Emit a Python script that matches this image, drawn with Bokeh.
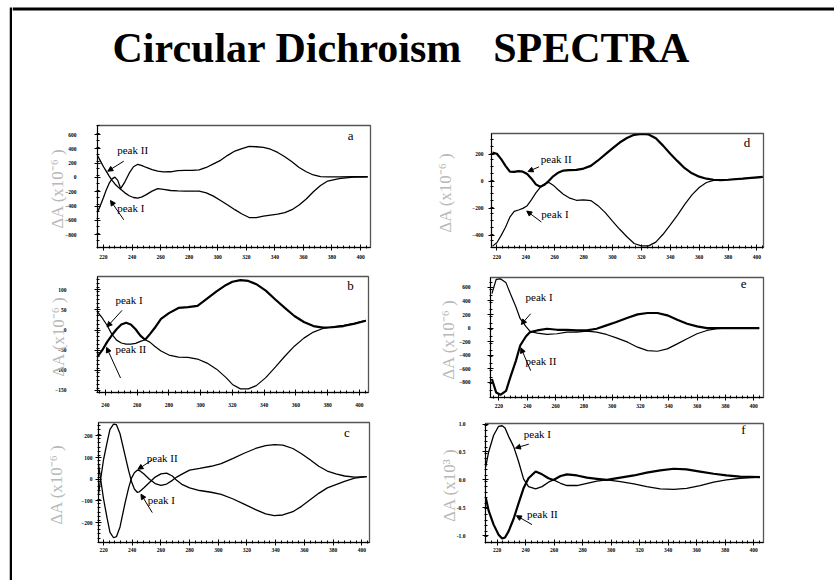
from bokeh.plotting import figure
from bokeh.layouts import column, row
from bokeh.models import Label, Arrow, NormalHead, FixedTicker, Range1d, BoxAnnotation, NumeralTickFormatter
from bokeh.embed import file_html
from bokeh.resources import INLINE

TITLE_PART_1 = "Circular Dichroism"
TITLE_PART_2 = "SPECTRA"
PEAK_I = "peak I"
PEAK_II = "peak II"

x_ticks = [220, 240, 260, 280, 300, 320, 340, 360, 380, 400]
x_ticks_b = [240, 260, 280, 300, 320, 340, 360, 380, 400]

# ---- panel a ----
a_wl = [216, 218, 220, 222, 224, 226, 228, 230, 232, 235, 238, 241, 244, 247, 250, 254, 258, 262, 267, 272,
        277, 282, 287, 292, 297, 302, 307, 312, 317, 322, 327, 332, 337, 342, 347, 352, 357, 362, 367, 372,
        377, 385, 395, 405]
a_peak_I = [-480, -380, -280, -170, -80, -20, 5, -40, -155, -60, 60, 150, 185, 165, 140, 110, 88, 78, 80, 95,
            100, 100, 107, 140, 190, 240, 310, 370, 405, 435, 430, 420, 395, 350, 290, 220, 140, 80, 35, 12,
            8, 8, 10, 10]
a_peak_II = [300, 225, 150, 85, 20, -40, -90, -130, -165, -215, -255, -280, -288, -272, -240, -190, -155, -165,
             -182, -188, -190, -191, -190, -215, -260, -322, -385, -450, -510, -560, -560, -540, -525, -512,
             -490, -450, -385, -300, -200, -112, -50, -15, 5, 10]
a_y_ticks = [-800, -600, -400, -200, 0, 200, 400, 600]

# ---- panel d ----
d_wl = [217, 220, 223, 226, 229, 232, 235, 238, 241, 244, 247, 250, 253, 256, 259, 262, 266, 270, 275, 280,
        285, 290, 295, 300, 305, 310, 315, 320, 325, 330, 335, 340, 345, 350, 355, 360, 365, 370, 375, 380,
        390, 398, 404]
d_peak_II = [213, 205, 165, 115, 72, 70, 76, 72, 55, 20, -22, -40, -25, 5, 38, 62, 80, 84, 86, 95,
             115, 155, 200, 245, 288, 322, 345, 352, 348, 320, 265, 205, 150, 98, 60, 35, 20, 12, 10, 12,
             20, 28, 34]
d_peak_I = [-480, -455, -400, -340, -265, -222, -212, -200, -180, -135, -85, -45, -18, -8, -28, -58, -95, -122,
            -140, -137, -142, -180, -232, -295, -355, -410, -460, -478, -478, -450, -392, -322, -250, -170,
            -100, -45, -8, 8, 10, 12, 20, 27, 30]
d_y_ticks = [-400, -200, 0, 200]

# ---- panel b ----
b_wl = [235, 238, 241, 244, 247, 250, 253, 256, 259, 262, 265, 268, 271, 275, 280, 286, 292, 298, 304, 310,
        316, 320, 325, 330, 335, 341, 347, 353, 359, 365, 371, 377, 383, 390, 397, 404]
b_peak_II = [-66, -50, -30, -13, 2, 14, 18, 14, 2, -14, -24, -10, 5, 28, 42, 55, 57, 60, 78, 96,
             112, 120, 124, 122, 114, 98, 76, 55, 35, 20, 10, 6, 7, 10, 16, 23]
b_peak_I = [45, 30, 12, -10, -25, -32, -35, -35, -33, -28, -24, -30, -40, -52, -62, -67, -68, -72, -82, -97,
            -118, -135, -146, -146, -138, -118, -92, -65, -40, -20, -5, 4, 8, 12, 17, 24]
b_y_ticks = [-150, -100, -50, 0, 50, 100]

# ---- panel e ----
e_wl = [215, 218, 221, 225, 228, 232, 235, 239, 242, 247, 254, 261, 268, 275, 282, 289, 296, 303, 311, 318,
        325, 332, 339, 346, 353, 360, 367, 374, 381, 391, 404]
e_peak_I = [510, 718, 728, 668, 510, 312, 139, 25, -50, -74, -94, -84, -59, -59, -45, -59, -94, -144, -208, -282,
            -332, -342, -307, -233, -158, -84, -35, -10, 0, 0, 0]
e_peak_II = [-752, -950, -985, -926, -728, -480, -257, -124, -59, -35, -10, -25, -25, -35, -35, -10, 40, 89, 153,
             203, 223, 223, 188, 124, 64, 25, 0, 0, 0, 0, 0]
e_y_ticks = [-800, -600, -400, -200, 0, 200, 400, 600]

# ---- panel c ----
c_wl = [216.5, 218, 220, 222.5, 224.5, 227, 229, 231.5, 235, 237.5, 239.5, 241.5, 243.5, 245, 248, 252, 256, 260,
        264, 268, 271, 275, 280, 287, 295, 302, 310, 318, 326, 333, 339, 345, 352, 358, 364, 370, 376, 382, 388,
        395, 403.5]
c_peak_I = [-69, 0, 90, 170, 230, 255, 252, 210, 110, 40, -10, -45, -60, -58, -40, -15, 10, 25, 28, 15, -5, -25,
            -40, -52, -60, -70, -90, -115, -140, -160, -168, -165, -150, -125, -95, -65, -40, -25, -10, 5, 12]
c_peak_II = [70, 0, -90, -180, -245, -270, -265, -220, -110, -40, 5, 30, 42, 40, 25, 0, -20, -28, -22, -5, 10, 25,
             42, 50, 60, 72, 95, 120, 142, 155, 160, 158, 142, 118, 90, 60, 38, 25, 15, 10, 12]
c_y_ticks = [-200, -100, 0, 100, 200]

# ---- panel f ----
f_wl = [212, 214, 217.5, 221, 223.5, 225.5, 228, 231.5, 235, 238.5, 242, 247, 251.5, 256, 259.5, 264.5, 269, 276,
        283, 290, 297, 306.5, 316, 325, 334.5, 344, 353, 362.5, 372, 381, 390.5, 404.5]
f_peak_I = [0.24, 0.5, 0.8, 0.96, 0.97, 0.93, 0.78, 0.6, 0.33, 0.02, -0.12, -0.16, -0.12, -0.04, 0.0, -0.06, -0.1,
            -0.1, -0.06, -0.02, 0.0, -0.03, -0.07, -0.12, -0.16, -0.17, -0.15, -0.1, -0.04, 0.0, 0.03, 0.05]
f_peak_II = [-0.32, -0.55, -0.8, -0.98, -1.05, -1.03, -0.92, -0.7, -0.42, -0.15, 0.03, 0.15, 0.1, 0.03, 0.0, 0.07,
             0.1, 0.08, 0.04, 0.02, 0.0, 0.04, 0.08, 0.13, 0.17, 0.2, 0.19, 0.15, 0.11, 0.08, 0.06, 0.05]
f_y_ticks = [-1.0, -0.5, 0.0, 0.5, 1.0]

Y_LABEL_6 = "ΔA  (x10⁻⁶ )"
Y_LABEL_3 = "ΔA  (x10³ )"

SERIF = "Liberation Serif"


def frange(a, b, step):
    out = []
    v = a
    while v <= b + 1e-9:
        out.append(round(v, 6))
        v += step
    return out


def make_panel(w, h, borders, xr, yr, xt, yt, ylabel, y_minor_step, tick_so, label_so, x_so):
    bl, br, bt, bb = borders
    p = figure(width=w, height=h, x_range=Range1d(*xr), y_range=Range1d(*yr),
               output_backend="svg", toolbar_location=None,
               min_border_left=bl, min_border_right=br, min_border_top=bt, min_border_bottom=bb,
               background_fill_color="white", border_fill_color="white")
    p.xgrid.visible = False
    p.ygrid.visible = False
    p.outline_line_color = "#555555"
    p.outline_line_width = 1.3
    p.xaxis.ticker = FixedTicker(ticks=xt, minor_ticks=frange(200, 410, 4))
    p.yaxis.ticker = FixedTicker(ticks=yt, minor_ticks=frange(yr[0] - y_minor_step * 2, yr[1] + y_minor_step, y_minor_step))
    for ax in (p.xaxis, p.yaxis):
        ax.major_label_text_font = SERIF
        ax.major_label_text_font_style = "bold"
        ax.major_label_text_font_size = "5.5px"
        ax.major_label_text_color = "black"
        ax.major_tick_in = 3
        ax.major_tick_out = 3
        ax.minor_tick_in = 2
        ax.minor_tick_out = 1
        ax.axis_line_color = "black"
        ax.major_tick_line_color = "black"
        ax.minor_tick_line_color = "black"
    p.xaxis.major_label_standoff = x_so
    p.yaxis.major_label_standoff = tick_so
    p.yaxis.axis_label = ylabel
    p.yaxis.axis_label_text_font = SERIF
    p.yaxis.axis_label_text_font_size = "17px"
    p.yaxis.axis_label_text_font_style = "normal"
    p.yaxis.axis_label_text_color = "#b8b8b8"
    p.yaxis.axis_label_standoff = label_so
    return p


def annotate(p, letter, letter_xy, t1, t1_xy, arr1, t2, t2_xy, arr2):
    p.add_layout(Label(x=letter_xy[0], y=letter_xy[1], text=letter, text_font=SERIF, text_font_size="13px",
                       text_align="center", text_baseline="middle", text_color="black"))
    for t, xy, ar in ((t1, t1_xy, arr1), (t2, t2_xy, arr2)):
        p.add_layout(Label(x=xy[0], y=xy[1], text=t, text_font=SERIF, text_font_size="11px",
                           text_baseline="middle", text_color="black"))
        p.add_layout(Arrow(end=NormalHead(size=5, fill_color="black", line_color="black", line_width=1),
                           x_start=ar[0], y_start=ar[1], x_end=ar[2], y_end=ar[3],
                           line_color="black", line_width=1))


# panel a
pa = make_panel(406, 150, (85, 48, 12, 16), (215.8, 407), (-979, 727), x_ticks, a_y_ticks, Y_LABEL_6, 100, 18, -5, 4)
pa.line(a_wl, a_peak_I, line_color="black", line_width=1.3)
pa.line(a_wl, a_peak_II, line_color="black", line_width=1.3)
annotate(pa, "a", (393, 588), PEAK_II, (229.6, 388), (234.2, 228, 223, 88),
         PEAK_I, (229.6, -424), (234.2, -592, 224.9, -322))

# panel d
pdd = make_panel(416, 150, (73, 71, 20, 16), (216.3, 404.5), (-490, 355), x_ticks, d_y_ticks, Y_LABEL_6, 50, 5, 14, 4)
pdd.line(d_wl, d_peak_II, line_color="black", line_width=2.2)
pdd.line(d_wl, d_peak_I, line_color="black", line_width=1.2)
annotate(pdd, "d", (393, 286), PEAK_II, (250.4, 169), (249.2, 108, 241.6, 73),
         PEAK_I, (250.8, -240), (250.8, -301, 240.7, -220))

# panel b
pb = make_panel(406, 147, (85, 50, 13, 18), (235, 405.7), (-155, 133), x_ticks_b, b_y_ticks, Y_LABEL_6, 10, 28, -16, 7)
pb.line(b_wl, b_peak_II, line_color="black", line_width=2.2)
pb.line(b_wl, b_peak_I, line_color="black", line_width=1.2)
annotate(pb, "b", (394.3, 111), PEAK_I, (246.3, 74), (250.5, 49, 241, 8),
         PEAK_II, (246.3, -48), (249.5, -119, 240.7, -43))

# panel e
pe = make_panel(416, 147, (72, 71, 14, 13), (214, 407), (-1025, 747), x_ticks, e_y_ticks, Y_LABEL_6, 100, 17, -2, 3)
pe.line(e_wl, e_peak_I, line_color="black", line_width=1.2)
pe.line(e_wl, e_peak_II, line_color="black", line_width=2.2)
annotate(pe, "e", (392.9, 658), PEAK_I, (238.8, 460), (242.4, 213, 235.8, 54),
         PEAK_II, (238.8, -480), (242.4, -629, 235.5, -292))

# panel c
pc = make_panel(406, 170, (86, 49, 12, 38), (216.5, 405.4), (-292, 262), x_ticks, c_y_ticks, Y_LABEL_6, 20, 3, 12, 2)
pc.line(c_wl, c_peak_I, line_color="black", line_width=1.3)
pc.line(c_wl, c_peak_II, line_color="black", line_width=1.3)
annotate(pc, "c", (389.6, 215), PEAK_II, (250.2, 97), (253.7, 88, 244, 46),
         PEAK_I, (250.9, -97), (254, -154, 246.1, -69))

# panel f
pf = make_panel(416, 170, (67, 71, 13, 38), (211.8, 407), (-1.12, 1.01), x_ticks, f_y_ticks, Y_LABEL_3, 0.1, 17, -5, 2)
pf.yaxis.formatter = NumeralTickFormatter(format="0.0")
pf.line(f_wl, f_peak_I, line_color="black", line_width=1.3)
pf.line(f_wl, f_peak_II, line_color="black", line_width=2.2)
annotate(pf, "f", (392.9, 0.9), PEAK_I, (238.7, 0.83), (242.2, 0.64, 232.8, 0.57),
         PEAK_II, (240.9, -0.61), (244.5, -0.80, 233.5, -0.64))


def blank(w, h, xr, yr):
    p = figure(width=w, height=h, x_range=Range1d(*xr), y_range=Range1d(*yr),
               output_backend="svg", toolbar_location=None, x_axis_type=None, y_axis_type=None,
               min_border=0, min_border_left=0, min_border_right=0, min_border_top=0, min_border_bottom=0,
               background_fill_color="white", border_fill_color="white", outline_line_color=None)
    p.xgrid.visible = False
    p.ygrid.visible = False
    return p


# left white margin and black slide edge
left_pad = blank(9, 580, (0, 1), (0, 580))
left_edge = blank(3, 580, (0, 1), (0, 580))
left_edge.add_layout(BoxAnnotation(bottom=0, top=573, fill_color="black", fill_alpha=1, line_color=None))

# title area with the slide's top edge
title_fig = blank(822, 113, (0, 822), (0, 113))
title_fig.add_layout(BoxAnnotation(bottom=103, top=106, fill_color="black", fill_alpha=1, line_color=None))
title_fig.add_layout(Label(x=100, y=66, text=TITLE_PART_1, text_font=SERIF, text_font_size="42px",
                           text_font_style="bold", text_align="left", text_baseline="alphabetic",
                           text_color="black"))
title_fig.add_layout(Label(x=480.7, y=66, text=TITLE_PART_2, text_font=SERIF, text_font_size="42px",
                           text_font_style="bold", text_align="left", text_baseline="alphabetic",
                           text_color="black"))

# each panel wrapped on its own so that frames are not aligned with neighbours
left_col = column(row(pa), row(pb), row(pc))
right_col = column(row(pdd), row(pe), row(pf))

layout = row(left_pad, left_edge,
             column(title_fig, row(left_col, right_col)))

open("out.html", "w").write(file_html(layout, INLINE, title="Circular Dichroism SPECTRA"))
